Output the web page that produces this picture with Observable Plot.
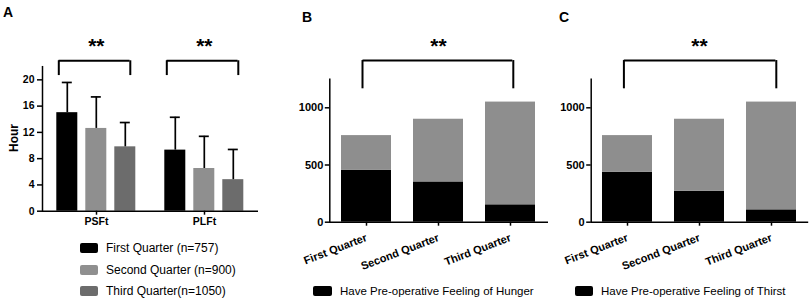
<!DOCTYPE html>
<html><head><meta charset="utf-8">
<script src="https://cdn.jsdelivr.net/npm/d3@7"></script>
<script src="https://cdn.jsdelivr.net/npm/@observablehq/plot@0.6"></script>
<style>
body{margin:0;background:#fff;}
#fig{position:relative;width:810px;height:301px;overflow:hidden;font-family:"Liberation Sans",Arial,Helvetica,sans-serif;color:#000;}
#fig svg{position:absolute;top:0;}
.letter{position:absolute;font-weight:bold;font-size:14px;line-height:14px;}
.leg{position:absolute;display:flex;align-items:center;font-size:12px;line-height:12px;height:12px;white-space:nowrap;}
.sw{width:18px;height:10px;border-radius:2px;margin-right:8px;flex:none;}
.ylab{position:absolute;font-weight:bold;font-size:12px;line-height:12px;transform:translate(-50%,-50%) rotate(-90deg);}
</style></head><body><div id="fig"></div>
<script>
// ---------- data ----------
const quarters = ["First Quarter", "Second Quarter", "Third Quarter"];
const groupsA = ["PSFt", "PLFt"];
const meanPSFt = [15.0, 12.6, 9.8];
const sdPSFt = [4.6, 4.8, 3.7];
const meanPLFt = [9.3, 6.5, 4.8];
const sdPLFt = [5.0, 4.9, 4.6];
const legendA = ["First Quarter (n=757)", "Second Quarter (n=900)", "Third Quarter(n=1050)"];
const totals = [757, 900, 1050];
const hunger = [455, 352, 152];
const thirst = [437, 271, 108];
const ticksA = [0, 4, 8, 12, 16, 20];
const ticksBC = [0, 500, 1000];
const legendB = "Have Pre-operative Feeling of Hunger";
const legendC = "Have Pre-operative Feeling of Thirst";
const yLabelA = "Hour";
const signif = "**";

// ---------- styles ----------
const font = '"Liberation Sans", Arial, Helvetica, sans-serif';
const greysA = ["#000000", "#8f8f8f", "#6c6c6c"];
const greysBC = ["#000000", "#8e8e8e"];
const fig = document.getElementById("fig");
const baseStyle = {fontFamily: font, fontWeight: "bold", background: "transparent", overflow: "visible", color: "#000"};
const fmt = d3.format("d");

// ---------- panel A ----------
const meansA = [meanPSFt, meanPLFt];
const sdsA = [sdPSFt, sdPLFt];
const rowsA = groupsA.flatMap((g, gi) => quarters.map((q, qi) => ({group: g, quarter: q, mean: meansA[gi][qi], sd: sdsA[gi][qi]})));

const plotA = Plot.plot({
  width: 270, height: 232,
  marginLeft: 41.7, marginRight: 11.3, marginTop: 66.2, marginBottom: 21.3,
  style: {...baseStyle, fontSize: "10.5px"},
  fx: {domain: groupsA, padding: 0, label: null},
  x: {domain: quarters, paddingInner: 0.274, paddingOuter: 0.472, axis: null},
  y: {domain: [0, 22]},
  color: {domain: quarters, range: greysA},
  marks: [
    Plot.barY(rowsA, {fx: "group", x: "quarter", y: "mean", fill: "quarter"}),
    Plot.ruleX(rowsA, {fx: "group", x: "quarter", y1: "mean", y2: d => d.mean + d.sd, stroke: "#000", strokeWidth: 1.7}),
    Plot.tickY(rowsA, {fx: "group", x: "quarter", y: d => d.mean + d.sd, stroke: "#000", strokeWidth: 1.7, insetLeft: 5.5, insetRight: 5.5}),
    Plot.ruleY([0], {stroke: "#000", strokeWidth: 1.5}),
    Plot.frame({anchor: "left", facetAnchor: "left", stroke: "#000", strokeWidth: 1.5}),
    Plot.axisY({ticks: ticksA, tickFormat: fmt, tickSize: 5, tickPadding: 3, label: null, strokeWidth: 1.5, fontSize: 10.5}),
    Plot.axisFx({anchor: "bottom", tickSize: 4, tickPadding: 2, label: null, strokeWidth: 1.5, fontSize: 10.5}),
    // significance brackets
    Plot.ruleY(groupsA, {fx: d => d, y: () => 22.9, x1: () => quarters[0], x2: () => quarters[2], insetLeft: 2.25, insetRight: 5.75, stroke: "#000", strokeWidth: 2}),
    Plot.ruleX(groupsA, {fx: d => d, x: () => quarters[0], y1: () => 20.65, y2: () => 22.9, dx: -8.5, stroke: "#000", strokeWidth: 2}),
    Plot.ruleX(groupsA, {fx: d => d, x: () => quarters[2], y1: () => 20.65, y2: () => 22.9, dx: 5, stroke: "#000", strokeWidth: 2}),
    Plot.text(groupsA, {fx: d => d, x: () => quarters[1], y: () => 25.1, text: () => signif, fontSize: 21, fontWeight: "bold"})
  ]
});
plotA.style.left = "0px";
fig.appendChild(plotA);

// ---------- panels B & C ----------
function stacked(counts, o) {
  const rows = quarters.flatMap((q, i) => [
    {quarter: q, status: "yes", n: counts[i]},
    {quarter: q, status: "no", n: totals[i] - counts[i]}
  ]);
  return Plot.plot({
    width: o.width, height: 270,
    marginLeft: o.ml, marginRight: o.mr, marginTop: 78.7, marginBottom: 48.3,
    style: {...baseStyle, fontSize: "11px"},
    x: {domain: quarters, paddingInner: 0.3, paddingOuter: 0.15},
    y: {domain: [0, 1250]},
    color: {domain: ["yes", "no"], range: greysBC},
    marks: [
      Plot.barY(rows, {x: "quarter", y: "n", fill: "status"}),
      Plot.ruleY([0], {stroke: "#000", strokeWidth: 1.5}),
      Plot.frame({anchor: "left", stroke: "#000", strokeWidth: 1.5}),
      Plot.axisY({ticks: ticksBC, tickFormat: fmt, tickSize: 4.5, tickPadding: 2, label: null, strokeWidth: 1.5, fontSize: 11}),
      Plot.axisX({tickSize: 4, tickFormat: () => "", label: null, strokeWidth: 1.5}),
      Plot.text(quarters, {x: d => d, frameAnchor: "bottom", dy: 15, dx: 0, rotate: -21, textAnchor: "end", lineAnchor: "middle", fontSize: 11, fontWeight: "bold"}),
      Plot.ruleY([1413], {x1: () => quarters[0], x2: () => quarters[2], insetLeft: o.il, insetRight: o.ir, stroke: "#000", strokeWidth: 2}),
      Plot.ruleX([quarters[0]], {y1: () => 1166, y2: () => 1413, dx: o.dl, stroke: "#000", strokeWidth: 2}),
      Plot.ruleX([quarters[2]], {y1: () => 1166, y2: () => 1413, dx: o.dr, stroke: "#000", strokeWidth: 2}),
      Plot.text([signif], {x: () => quarters[1], y: () => 1536, fontSize: 21, fontWeight: "bold"})
    ]
  });
}
const plotB = stacked(hunger, {width: 270, ml: 49.3, mr: 2, il: 21.5, ir: 22.7, dl: -4, dr: 2.8});
plotB.style.left = "280px";
fig.appendChild(plotB);
const plotC = stacked(thirst, {width: 260, ml: 40.7, mr: 1.8, il: 21.8, ir: 20.6, dl: -3.6, dr: 4.8});
plotC.style.left = "550px";
fig.appendChild(plotC);

// ---------- html text: letters, axis label, legends ----------
function addDiv(cls, text, left, top) {
  const d = document.createElement("div");
  d.className = cls; d.textContent = text;
  d.style.left = left + "px"; d.style.top = top + "px";
  fig.appendChild(d); return d;
}
addDiv("letter", "A", 3, 4.5);
addDiv("letter", "B", 302, 9.5);
addDiv("letter", "C", 559, 9.5);
addDiv("ylab", yLabelA, 14, 137.5);

function legendRow(color, text, swLeft, cy, fontSize, swW) {
  const d = document.createElement("div");
  d.className = "leg";
  d.style.left = swLeft + "px"; d.style.top = (cy - 6) + "px";
  d.style.fontSize = fontSize + "px";
  const s = document.createElement("div");
  s.className = "sw"; s.style.background = color; s.style.width = swW + "px";
  const t = document.createElement("span"); t.textContent = text;
  d.appendChild(s); d.appendChild(t); fig.appendChild(d);
}
const rowYA = [248.3, 269.5, 291];
legendA.forEach((t, i) => legendRow(greysA[i], t, 80, rowYA[i], 12, 18));
legendRow(greysBC[0], legendB, 313, 291, 11.5, 19);
legendRow(greysBC[0], legendC, 575, 291, 11.5, 18);
</script></body></html>
